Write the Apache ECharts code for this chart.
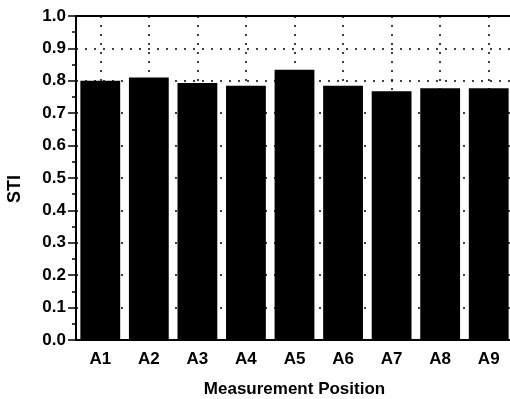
<!DOCTYPE html>
<html>
<head>
<meta charset="utf-8">
<script src="https://cdn.jsdelivr.net/npm/echarts@6/dist/echarts.min.js"></script>
<style>
  html, body { margin: 0; padding: 0; background: #fff; }
  #chart { width: 510px; height: 399px; }
</style>
</head>
<body>
<div id="chart"></div>
<script>
// Speech transmission index at each measurement position
const positions = ['A1', 'A2', 'A3', 'A4', 'A5', 'A6', 'A7', 'A8', 'A9'];
const stiValues = [0.80, 0.81, 0.793, 0.785, 0.834, 0.785, 0.768, 0.777, 0.777];

const FONT = 'Liberation Sans, Arial, sans-serif';
const chart = echarts.init(document.getElementById('chart'));

chart.setOption({
  animation: false,
  backgroundColor: '#fff',
  grid: {
    left: 76, right: -3, top: 16, bottom: 59,
    outerBoundsMode: 'none',
    show: true, borderColor: '#000', borderWidth: 2, backgroundColor: 'transparent'
  },
  xAxis: [
    {
      type: 'category',
      data: positions,
      name: 'Measurement Position',
      nameLocation: 'middle',
      nameGap: 41,
      nameTextStyle: { fontFamily: FONT, fontWeight: 'bold', fontSize: 17, color: '#000' },
      axisLine: { lineStyle: { color: '#000', width: 2 } },
      axisTick: { alignWithLabel: true, length: 5, lineStyle: { color: '#000', width: 1.5 } },
      axisLabel: { fontFamily: FONT, fontWeight: 'bold', fontSize: 17, color: '#000', margin: 11 },
      splitLine: {
        show: true, alignWithLabel: true,
        lineStyle: { color: '#000', type: [2, 7], width: 1.5 }
      }
    },
    {
      type: 'category',
      data: positions,
      position: 'bottom',
      axisLine: { show: false },
      axisTick: { length: 3, lineStyle: { color: '#000', width: 1.5 } },
      axisLabel: { show: false },
      splitLine: { show: false }
    }
  ],
  yAxis: {
    type: 'value',
    min: 0, max: 1, interval: 0.1,
    name: 'STI',
    nameLocation: 'middle',
    nameGap: 52,
    nameTextStyle: { fontFamily: FONT, fontWeight: 'bold', fontSize: 18, color: '#000', padding: [0, 22, 0, 0] },
    axisLine: { show: true, lineStyle: { color: '#000', width: 2 } },
    axisTick: { show: true, length: 8, lineStyle: { color: '#000', width: 1.5 } },
    minorTick: { show: true, splitNumber: 2, length: 4, lineStyle: { color: '#000', width: 1.5 } },
    axisLabel: {
      fontFamily: FONT, fontWeight: 'bold', fontSize: 17, color: '#000', margin: 10,
      formatter: v => v.toFixed(1)
    },
    splitLine: { show: true, lineStyle: { color: '#000', type: [2, 7], width: 1.5 } }
  },
  series: [{
    type: 'bar',
    data: stiValues,
    barCategoryGap: '18%',
    itemStyle: { color: '#000' }
  }]
});
</script>
</body>
</html>
